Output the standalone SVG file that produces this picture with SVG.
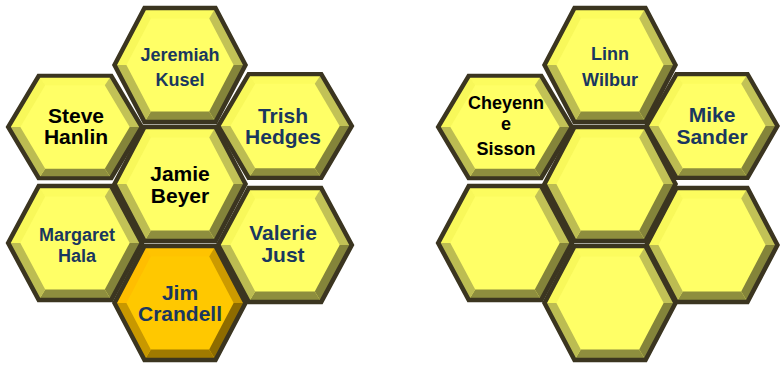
<svg xmlns="http://www.w3.org/2000/svg" xmlns:xlink="http://www.w3.org/1999/xlink" width="780" height="366" viewBox="0 0 780 366">
<style>
.o{fill:none;stroke:#3b3520;stroke-width:4.5;stroke-linejoin:miter}
.yf{fill:#ffff66}.yt{fill:#fcfc5e}.yul{fill:#f8f85a}.yur{fill:#c2c256}.ylr{fill:#84843a}.yb{fill:#8e8e3e}.yll{fill:#bcbc52}
.gf{fill:#ffc800}.gt{fill:#ffc300}.gul{fill:#ffbe00}.gur{fill:#cc9a00}.glr{fill:#8e6c00}.gb{fill:#a07a00}.gll{fill:#c89800}
text{font-family:"Liberation Sans",Arial,Helvetica,sans-serif;font-weight:bold;text-anchor:middle}
.n{fill:#1a375f}.k{fill:#000}
.big{font-size:21px}.sm{font-size:18px}
</style>
<defs>
<g id="hexY">
<polygon class="yf" points="-35.5,-57 35.5,-57 65.5,0 35.5,57 -35.5,57 -65.5,0"/>
<polygon class="yt" points="-35.5,-57 35.5,-57 29.2,-46.5 -29.2,-46.5"/>
<polygon class="yur" points="35.5,-57 65.5,0 53.6,0 29.2,-46.5"/>
<polygon class="ylr" points="65.5,0 35.5,57 29.2,46.5 53.6,0"/>
<polygon class="yb" points="35.5,57 -35.5,57 -29.2,46.5 29.2,46.5"/>
<polygon class="yll" points="-35.5,57 -65.5,0 -53.6,0 -29.2,46.5"/>
<polygon class="yul" points="-65.5,0 -35.5,-57 -29.2,-46.5 -53.6,0"/>
<polygon class="o" points="-35.5,-57 35.5,-57 65.5,0 35.5,57 -35.5,57 -65.5,0"/>
</g>
<g id="hexG">
<polygon class="gf" points="-35.5,-57 35.5,-57 65.5,0 35.5,57 -35.5,57 -65.5,0"/>
<polygon class="gt" points="-35.5,-57 35.5,-57 29.2,-46.5 -29.2,-46.5"/>
<polygon class="gur" points="35.5,-57 65.5,0 53.6,0 29.2,-46.5"/>
<polygon class="glr" points="65.5,0 35.5,57 29.2,46.5 53.6,0"/>
<polygon class="gb" points="35.5,57 -35.5,57 -29.2,46.5 29.2,46.5"/>
<polygon class="gll" points="-35.5,57 -65.5,0 -53.6,0 -29.2,46.5"/>
<polygon class="gul" points="-65.5,0 -35.5,-57 -29.2,-46.5 -53.6,0"/>
<polygon class="o" points="-35.5,-57 35.5,-57 65.5,0 35.5,57 -35.5,57 -65.5,0"/>
</g>
</defs>

<g id="node-jeremiah-kusel">
<use xlink:href="#hexY" href="#hexY" transform="translate(180,65)"/>
<text class="n sm" x="180" y="61">Jeremiah</text>
<text class="n sm" x="180" y="86">Kusel</text>
</g>
<g id="node-steve-hanlin">
<use xlink:href="#hexY" href="#hexY" transform="translate(75,127) scale(1.02,0.9)"/>
<text class="k big" x="76" y="123">Steve</text>
<text class="k big" x="76" y="144">Hanlin</text>
</g>
<g id="node-trish-hedges">
<use xlink:href="#hexY" href="#hexY" transform="translate(285,126) scale(1.02,0.91)"/>
<text class="n big" x="283" y="123">Trish</text>
<text class="n big" x="283" y="144">Hedges</text>
</g>
<g id="node-jamie-beyer">
<use xlink:href="#hexY" href="#hexY" transform="translate(180,184)"/>
<text class="k big" x="180" y="181">Jamie</text>
<text class="k big" x="180" y="203">Beyer</text>
</g>
<g id="node-margaret-hala">
<use xlink:href="#hexY" href="#hexY" transform="translate(75,243) scale(1.02,1)"/>
<text class="n sm" x="77" y="241">Margaret</text>
<text class="n sm" x="77" y="262">Hala</text>
</g>
<g id="node-valerie-just">
<use xlink:href="#hexY" href="#hexY" transform="translate(285,245) scale(1.02,1)"/>
<text class="n big" x="283" y="240">Valerie</text>
<text class="n big" x="283" y="262">Just</text>
</g>
<g id="node-jim-crandell">
<use xlink:href="#hexG" href="#hexG" transform="translate(180,303)"/>
<text class="n big" x="180" y="300">Jim</text>
<text class="n big" x="180" y="321">Crandell</text>
</g>

<g id="node-linn-wilbur">
<use xlink:href="#hexY" href="#hexY" transform="translate(610,65)"/>
<text class="n sm" x="610" y="60">Linn</text>
<text class="n sm" x="610" y="86">Wilbur</text>
</g>
<g id="node-cheyenne-sisson">
<use xlink:href="#hexY" href="#hexY" transform="translate(505,127) scale(1.02,0.9)"/>
<text class="k sm" x="506" y="109">Cheyenn</text>
<text class="k sm" x="506" y="130">e</text>
<text class="k sm" x="506" y="155">Sisson</text>
</g>
<g id="node-mike-sander">
<use xlink:href="#hexY" href="#hexY" transform="translate(712,126) scale(1.0,0.91)"/>
<text class="n big" x="712" y="122">Mike</text>
<text class="n big" x="712" y="144">Sander</text>
</g>
<g id="node-empty-center">
<use xlink:href="#hexY" href="#hexY" transform="translate(610,184)"/>
</g>
<g id="node-empty-lower-left">
<use xlink:href="#hexY" href="#hexY" transform="translate(505,243) scale(1.02,1)"/>
</g>
<g id="node-empty-lower-right">
<use xlink:href="#hexY" href="#hexY" transform="translate(712,245)"/>
</g>
<g id="node-empty-bottom">
<use xlink:href="#hexY" href="#hexY" transform="translate(610,303)"/>
</g>
</svg>
